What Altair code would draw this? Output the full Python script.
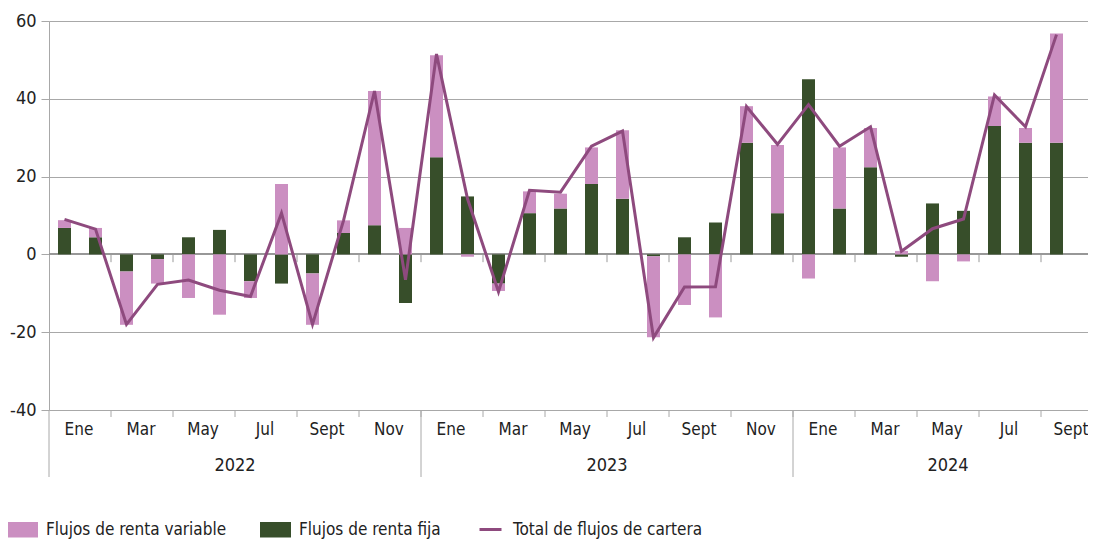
import altair as alt
import pandas as pd

# ---- data (billions, monthly Jan 2022 - Sept 2024) ----
fija = [6.8, 4.4, -4.4, -1.2, 4.4, 6.3, -6.9, -7.5, -4.9, 5.5, 7.5, -12.5,
        25.0, 14.9, -7.5, 10.6, 11.8, 18.1, 14.3, -0.5, 4.4, 8.2, 28.7, 10.6,
        45.0, 11.8, 22.4, -0.6, 13.1, 11.2, 33.0, 28.7, 28.7]
variable = [2.0, 2.4, -13.7, -6.3, -11.2, -15.5, -4.3, 18.1, -13.2, 3.25, 34.5, 6.8,
            26.2, -0.6, -1.9, 5.6, 3.8, 9.4, 17.6, -20.8, -13.0, -16.2, 9.4, 17.5,
            -6.2, 15.7, 10.1, 0.9, -6.9, -1.8, 7.6, 3.8, 28.1]
total = [9.0, 6.5, -18.0, -7.7, -6.6, -9.2, -10.8, 10.6, -18.0, 8.7, 42.0, -6.5,
         51.5, 14.3, -9.6, 16.5, 16.0, 27.8, 31.7, -21.4, -8.4, -8.3, 38.0, 28.3,
         38.5, 27.8, 32.8, 0.8, 6.6, 9.1, 41.0, 32.8, 56.5]
month_labels = ["Ene", "Mar", "May", "Jul", "Sept", "Nov",
                "Ene", "Mar", "May", "Jul", "Sept", "Nov",
                "Ene", "Mar", "May", "Jul", "Sept"]
years = ["2022", "2023", "2024"]
year_center = [6, 18, 29]
year_start = [0, 12, 24]
y_ticks = [-40, -20, 0, 20, 40, 60]

LAB_VAR = "Flujos de renta variable"
LAB_FIJA = "Flujos de renta fija"
LAB_TOT = "Total de flujos de cartera"

PINK = "#cb8fc1"
GREEN = "#374e2a"
LINE = "#8e4a7e"
GRID = "#a8a8a8"
TXT = "#222222"
FONT = "DejaVu Sans Condensed, Liberation Sans Narrow, sans-serif"
FS = 17

W, H = 1039, 389
STEP = 31
n = len(fija)
xpos = [i + 0.5 for i in range(n)]

bars_df = pd.DataFrame({
    "x": xpos + xpos,
    "value": fija + variable,
    "serie": [LAB_FIJA] * n + [LAB_VAR] * n,
    "ord": [1] * n + [2] * n,
})
line_df = pd.DataFrame({"x": xpos, "total": total, "serie_t": [LAB_TOT] * n})
tick_df = pd.DataFrame({"x": list(range(2, n, 2))})
mlab_df = pd.DataFrame({"x": [i + 1 for i in range(0, n, 2)], "lab": month_labels})
ylab_df = pd.DataFrame({"x": year_center, "lab": years})
ysep_df = pd.DataFrame({"x": year_start})

xscale = alt.Scale(domain=[0, W / STEP], nice=False, zero=False, padding=0)
yscale = alt.Scale(domain=[-40, 60], nice=False, zero=False, padding=0)
yaxis = alt.Axis(values=y_ticks, grid=True, gridColor=GRID, domainColor=GRID,
                 tickColor=GRID, tickSize=8, labelFontSize=FS + 1, labelFont=FONT,
                 labelColor=TXT, labelPadding=5, title=None,
                 labelExpr="'' + datum.value")

zero_line = alt.Chart(line_df).mark_rule(color="#999999", strokeWidth=1).encode(
    y=alt.datum(0)
)

bars = alt.Chart(bars_df).mark_bar(size=13).encode(
    x=alt.X("x:Q", scale=xscale, axis=None),
    y=alt.Y("value:Q", scale=yscale, axis=yaxis, stack="zero"),
    color=alt.Color("serie:N",
                    scale=alt.Scale(domain=[LAB_VAR, LAB_FIJA], range=[PINK, GREEN]),
                    legend=alt.Legend(orient="none", legendX=-42, legendY=493,
                                      direction="horizontal", title=None,
                                      symbolType="M-1,-0.5H1V0.5H-1Z", symbolSize=961,
                                      symbolStrokeWidth=0, labelFontSize=FS,
                                      labelFont=FONT, labelColor=TXT, labelOffset=8,
                                      columnPadding=33, labelLimit=400)),
    order=alt.Order("ord:Q"),
)

line = alt.Chart(line_df).mark_line(strokeWidth=3, strokeJoin="miter").encode(
    x=alt.X("x:Q", scale=xscale, axis=None),
    y=alt.Y("total:Q", scale=yscale, axis=yaxis),
    stroke=alt.Stroke("serie_t:N",
                      scale=alt.Scale(domain=[LAB_TOT], range=[LINE]),
                      legend=alt.Legend(orient="none", legendX=429, legendY=496,
                                        title=None, symbolType="stroke", symbolSize=484,
                                        symbolStrokeWidth=3, labelFontSize=FS,
                                        labelFont=FONT, labelColor=TXT, labelOffset=10,
                                        labelLimit=400)),
)

zero_ticks = alt.Chart(tick_df).mark_rule(color="#999999").encode(
    x=alt.X("x:Q", scale=xscale, axis=None),
    y=alt.datum(0),
    y2=alt.datum(-2.0),
)

bottom_ticks = alt.Chart(tick_df).mark_rule(color=GRID).encode(
    x=alt.X("x:Q", scale=xscale, axis=None),
    y=alt.value(H),
    y2=alt.value(H + 7),
)

year_seps = alt.Chart(ysep_df).mark_rule(color=GRID).encode(
    x=alt.X("x:Q", scale=xscale, axis=None),
    y=alt.value(H),
    y2=alt.value(H + 67),
)

month_text = alt.Chart(mlab_df).mark_text(fontSize=FS, font=FONT, color=TXT, dx=-1,
                                          baseline="middle", align="center").encode(
    x=alt.X("x:Q", scale=xscale, axis=None),
    y=alt.value(H + 20),
    text="lab:N",
)

year_text = alt.Chart(ylab_df).mark_text(fontSize=FS + 1, font=FONT, color=TXT,
                                         baseline="middle", align="center").encode(
    x=alt.X("x:Q", scale=xscale, axis=None),
    y=alt.value(H + 56),
    text="lab:N",
)

chart = alt.layer(
    zero_line, bars, zero_ticks, line, bottom_ticks, year_seps, month_text, year_text
).resolve_scale(color="independent").properties(
    width=W, height=H,
    padding={"left": 41, "top": 13, "right": 0, "bottom": 129},
    autosize=alt.AutoSizeParams(type="none"),
).configure_view(stroke=None).configure(background="white")

chart.save("out.html", embed_options={"renderer": "svg", "actions": False})
